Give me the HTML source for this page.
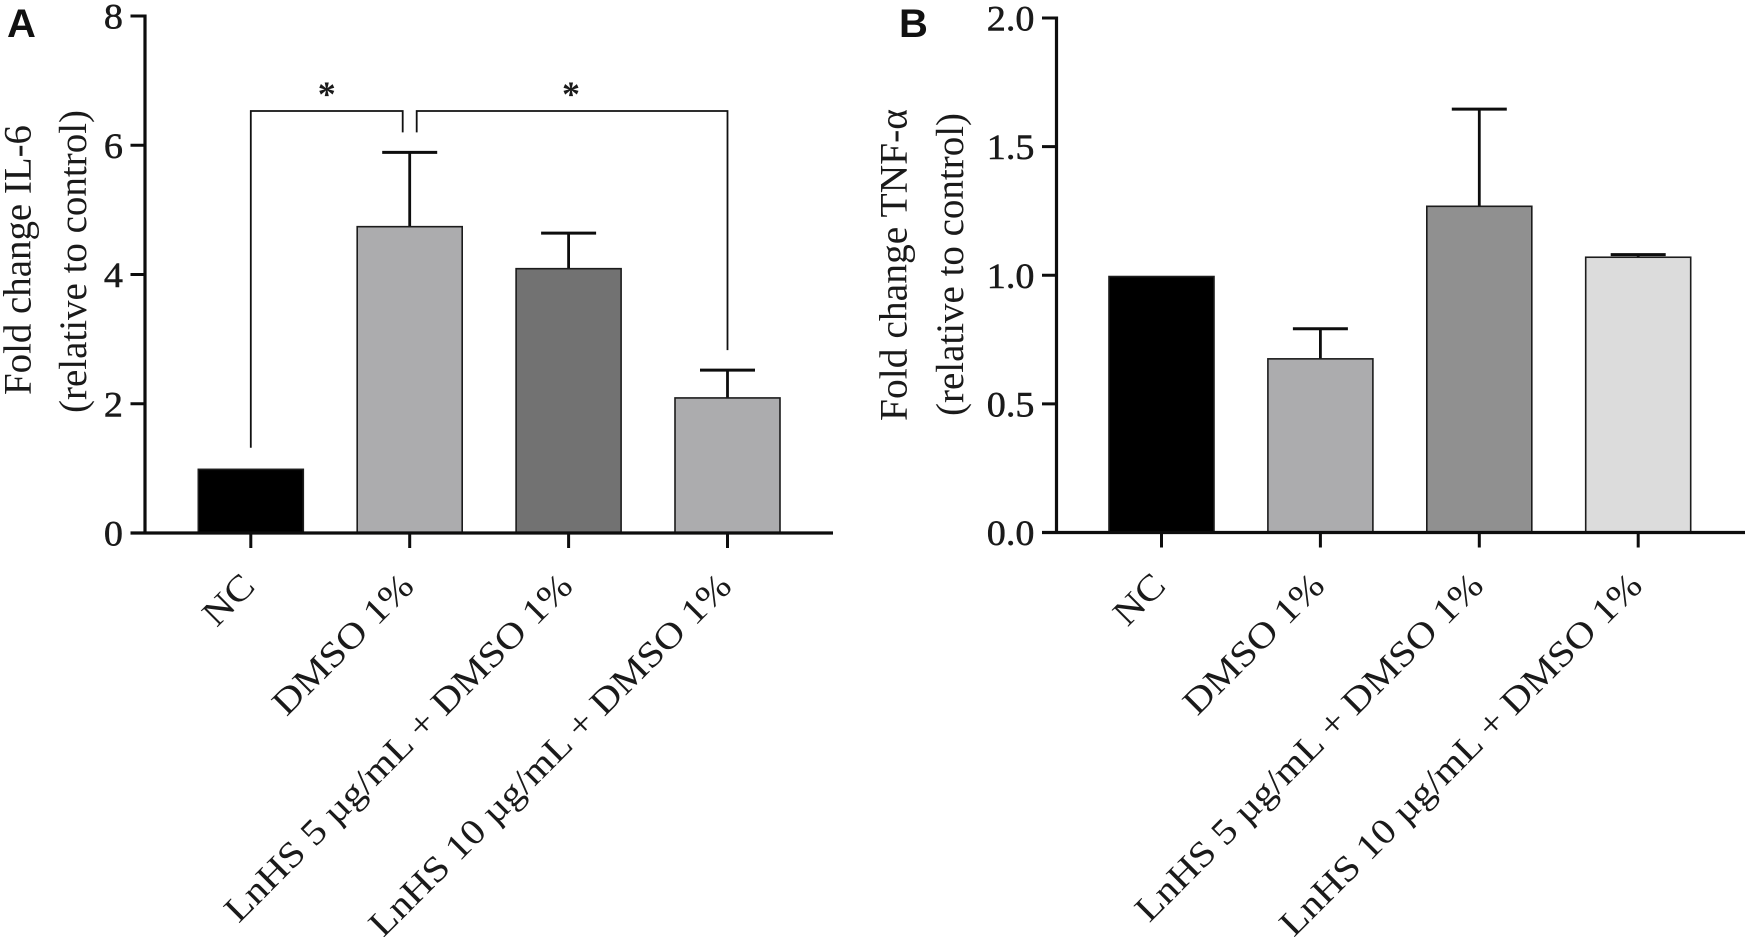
<!DOCTYPE html>
<html>
<head>
<meta charset="utf-8">
<title>Fold change IL-6 and TNF-α</title>
<style>
html,body{margin:0;padding:0;background:#fff;}
svg{display:block;}
text{font-family:"Liberation Serif",serif;fill:#1a1a1a;}
.letter{font-family:"Liberation Sans",sans-serif;font-weight:700;font-size:40px;fill:#111;}
.ytitle{font-size:39px;}
</style>
</head>
<body>
<svg id="chart" xmlns="http://www.w3.org/2000/svg" width="1748" height="937" viewBox="0 0 1748 937">
  <rect width="1748" height="937" fill="#fff"/>
  <text class="letter" x="7" y="37">A</text>
  <text class="letter" x="899" y="37">B</text>
  <text class="ytitle" transform="translate(30.5,395) rotate(-90)" textLength="270" lengthAdjust="spacingAndGlyphs">Fold change IL-6</text>
  <text class="ytitle" transform="translate(86,413) rotate(-90)" textLength="303" lengthAdjust="spacingAndGlyphs">(relative to control)</text>
  <text class="ytitle" transform="translate(906.5,421) rotate(-90)" textLength="312" lengthAdjust="spacingAndGlyphs">Fold change TNF-α</text>
  <text class="ytitle" transform="translate(963,416) rotate(-90)" textLength="303" lengthAdjust="spacingAndGlyphs">(relative to control)</text>
</svg>
<script>
var categories = ["NC", "DMSO 1%", "LnHS 5 µg/mL + DMSO 1%", "LnHS 10 µg/mL + DMSO 1%"];
var il6Values = [0.985, 4.74, 4.09, 2.09];
var il6Errors = [0, 1.15, 0.55, 0.43];
var tnfValues = [0.995, 0.675, 1.268, 1.07];
var tnfErrors = [0, 0.117, 0.378, 0.01];
var il6Ticks = [0, 2, 4, 6, 8];
var il6TickLabels = ["0", "2", "4", "6", "8"];
var tnfTicks = [0, 0.5, 1, 1.5, 2];
var tnfTickLabels = ["0.0", "0.5", "1.0", "1.5", "2.0"];
var il6Colors = ["#000000", "#acacae", "#727272", "#acacae"];
var tnfColors = ["#000000", "#acacae", "#909090", "#dcdcdc"];
var sigLevel = 6.53;
var sigDrop = 6.2;
var sigLeftEnd = 1.32;
var sigRightEnd = 2.83;

var svg = document.getElementById('chart');
var NS = 'http://www.w3.org/2000/svg';

function mk(tag, attrs) {
  var el = document.createElementNS(NS, tag);
  for (var k in attrs) el.setAttribute(k, attrs[k]);
  svg.appendChild(el);
  return el;
}

function drawPanel(p) {
  function yScale(v) { return p.y0 - v * (p.y0 - p.yTop) / p.max; }
  function xScale(i) { return p.x0 + i * p.step; }
  p.yScale = yScale;
  p.xScale = xScale;

  p.values.forEach(function (v, i) {
    var cx = xScale(i);
    if (p.errors[i] > 0) {
      var stem = mk('line', {x1: cx, x2: cx, y1: yScale(v), y2: yScale(v + p.errors[i]), stroke: '#0d0d0d', 'stroke-width': 2.8});
      
      
      var cap = mk('line', {x1: cx - 27.5, x2: cx + 27.5, y1: yScale(v + p.errors[i]), y2: yScale(v + p.errors[i]), stroke: '#0d0d0d', 'stroke-width': 3});
      
      
    }
    var bar = mk('rect', {x: cx - 52.5, y: yScale(v), width: 105, height: p.y0 - yScale(v), fill: p.colors[i], stroke: '#1c1c1c', 'stroke-width': 1.6});
    
    
  });

  var yAxis = mk('line', {x1: p.axisX, x2: p.axisX, y1: p.yTop - 1.5, y2: p.y0, stroke: '#0d0d0d', 'stroke-width': 3.2});
  
  
  var xAxis = mk('line', {x1: p.axisX - 14.5, x2: p.axisEnd, y1: p.y0, y2: p.y0, stroke: '#0d0d0d', 'stroke-width': 3.2});
  
  

  p.ticks.forEach(function (t, i) {
    var tick = mk('line', {x1: p.axisX - 14.5, x2: p.axisX, y1: yScale(t), y2: yScale(t), stroke: '#0d0d0d', 'stroke-width': 3});
    
    
    var lab = mk('text', {transform: 'translate(' + (p.axisX - 22) + ',' + (yScale(t) + 12.5) + ') scale(1.06,1)', 'text-anchor': 'end', 'font-size': 36, stroke: '#1a1a1a', 'stroke-width': 0.5});
    lab.textContent = p.tickLabels[i];
    
    
  });

  categories.forEach(function (c, i) {
    var cx = xScale(i);
    var tick = mk('line', {x1: cx, x2: cx, y1: p.y0, y2: p.y0 + 15, stroke: '#0d0d0d', 'stroke-width': 3});
    
    
    var lab = mk('text', {transform: 'translate(' + (cx + 6) + ',' + (p.y0 + 55) + ') rotate(-45) scale(1.135,1)', 'text-anchor': 'end', 'font-size': 36});
    lab.textContent = c;
    
    
  });
}

var panelA = {id: 'il6', values: il6Values, errors: il6Errors, colors: il6Colors, ticks: il6Ticks, tickLabels: il6TickLabels, max: 8, x0: 250.8, step: 158.9, y0: 533, yTop: 16, axisX: 145, axisEnd: 833};
var panelB = {id: 'tnf', values: tnfValues, errors: tnfErrors, colors: tnfColors, ticks: tnfTicks, tickLabels: tnfTickLabels, max: 2, x0: 1161.5, step: 158.9, y0: 532.5, yTop: 18, axisX: 1056.5, axisEnd: 1745};
drawPanel(panelA);
drawPanel(panelB);

var gap = 7;
var bx0 = panelA.xScale(0), bx1 = panelA.xScale(1), bx3 = panelA.xScale(3);
var ySig = panelA.yScale;
var left = mk('polyline', {points: [bx0, ySig(sigLeftEnd), bx0, ySig(sigLevel), bx1 - gap, ySig(sigLevel), bx1 - gap, ySig(sigDrop)].join(' '), fill: 'none', stroke: '#111', 'stroke-width': 1.8});


var right = mk('polyline', {points: [bx1 + gap, ySig(sigDrop), bx1 + gap, ySig(sigLevel), bx3, ySig(sigLevel), bx3, ySig(sigRightEnd)].join(' '), fill: 'none', stroke: '#111', 'stroke-width': 1.8});


var star1 = mk('text', {x: (bx0 + bx1 - gap) / 2, y: 106, 'text-anchor': 'middle', 'font-size': 36, 'font-weight': 700});
star1.textContent = '*';


var star2 = mk('text', {x: 571, y: 106, 'text-anchor': 'middle', 'font-size': 36, 'font-weight': 700});
star2.textContent = '*';


</script>
</body>
</html>
